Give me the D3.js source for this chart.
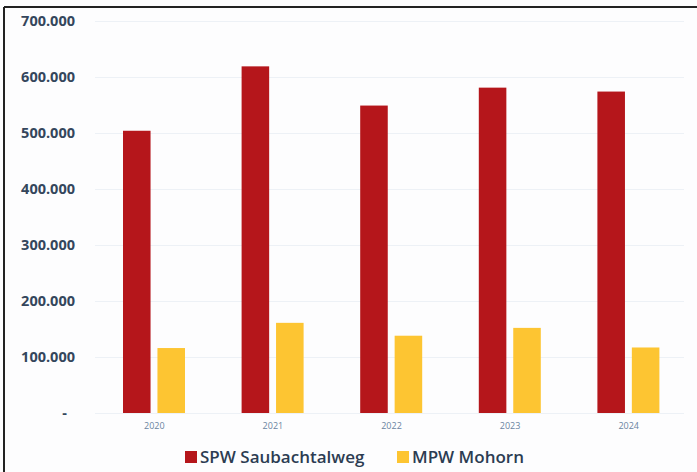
<!DOCTYPE html>
<html lang="de">
<head>
<meta charset="utf-8">
<title>SPW / MPW</title>
<script src="https://cdnjs.cloudflare.com/ajax/libs/d3/7.8.5/d3.min.js"></script>
<style>
  html, body { margin: 0; padding: 0; background: #fff; }
  svg { display: block; }
</style>
</head>
<body>
<div class="chart"></div>
<script>
var years = ["2020", "2021", "2022", "2023", "2024"];
var seriesNames = ["SPW Saubachtalweg", "MPW Mohorn"];
var spw = [504000, 619000, 549000, 581000, 574000];
var mpw = [116000, 161000, 138000, 152000, 117000];
var yTicks = [0, 100000, 200000, 300000, 400000, 500000, 600000, 700000];
var colors = ["#b5161b", "#fdc532"];

var width = 697, height = 472;
var svg = d3.select(".chart").append("svg").attr("width", width).attr("height", height);

svg.append("rect").attr("width", width).attr("height", height).attr("fill", "#fdfdfe");

// frame (left and top edges visible)
svg.append("line").attr("x1", 4).attr("x2", width).attr("y1", 7).attr("y2", 7)
    .attr("stroke", "#222").attr("stroke-width", 2);
svg.append("line").attr("x1", 4).attr("x2", 4).attr("y1", 7).attr("y2", height)
    .attr("stroke", "#222").attr("stroke-width", 2);

var x = d3.scaleBand().domain(years).range([95, 688]);
var xs = d3.scaleBand().domain(seriesNames).range([28, 90]).paddingInner(0.2);
var y = d3.scaleLinear().domain([0, 700000]).range([413, 21]);

var de = d3.formatLocale({decimal: ",", thousands: ".", grouping: [3], currency: ["", " €"]});
var fmt = de.format(",.0f");

// gridlines
svg.append("g").selectAll("line").data(yTicks).enter().append("line")
    .attr("x1", 95).attr("x2", 684)
    .attr("y1", function(d) { return y(d) + 0.5; })
    .attr("y2", function(d) { return y(d) + 0.5; })
    .attr("stroke", "#edf1f6").attr("stroke-width", 1);

// y labels
var yAxis = d3.axisLeft(y).tickValues(yTicks).tickSize(0).tickPadding(0)
    .tickFormat(function(d) { return d === 0 ? "-" : fmt(d); });
var gy = svg.append("g").attr("transform", "translate(75,0)").call(yAxis);
gy.select(".domain").remove();
gy.selectAll("text")
    .attr("font-family", "Open Sans").attr("font-weight", 700)
    .attr("font-size", "14.5px").attr("fill", "#34465c")
    .attr("dx", function(d) { return d === 0 ? -8 : 0; });

// x labels
var xAxis = d3.axisBottom(x).tickSize(0).tickPadding(10);
var gx = svg.append("g").attr("transform", "translate(0,413)").call(xAxis);
gx.select(".domain").remove();
gx.selectAll("text")
    .attr("font-family", "Open Sans").attr("font-size", "9px").attr("fill", "#6a84a0");

// bars
var rows = years.map(function(yr, i) { return {year: yr, values: [spw[i], mpw[i]]}; });
var groups = svg.append("g").selectAll("g").data(rows).enter().append("g")
    .attr("transform", function(d) { return "translate(" + x(d.year) + ",0)"; });
groups.selectAll("rect").data(function(d) {
        return d.values.map(function(v, k) { return {key: seriesNames[k], value: v, k: k}; });
    }).enter().append("rect")
    .attr("x", function(d) { return xs(d.key); })
    .attr("width", xs.bandwidth())
    .attr("y", function(d) { return y(d.value); })
    .attr("height", function(d) { return y(0) - y(d.value); })
    .attr("fill", function(d) { return colors[d.k]; });

// legend
var legendX = [185, 397];
var legend = svg.append("g").selectAll("g").data(seriesNames).enter().append("g")
    .attr("transform", function(d, i) { return "translate(" + legendX[i] + ",451)"; });
legend.append("rect").attr("width", 12).attr("height", 12)
    .attr("fill", function(d, i) { return colors[i]; });
legend.append("text").text(function(d) { return d; })
    .attr("x", 15).attr("y", 12)
    .attr("font-family", "Open Sans").attr("font-weight", 600)
    .attr("font-size", "17px").attr("fill", "#2c3c52");
</script>
</body>
</html>
